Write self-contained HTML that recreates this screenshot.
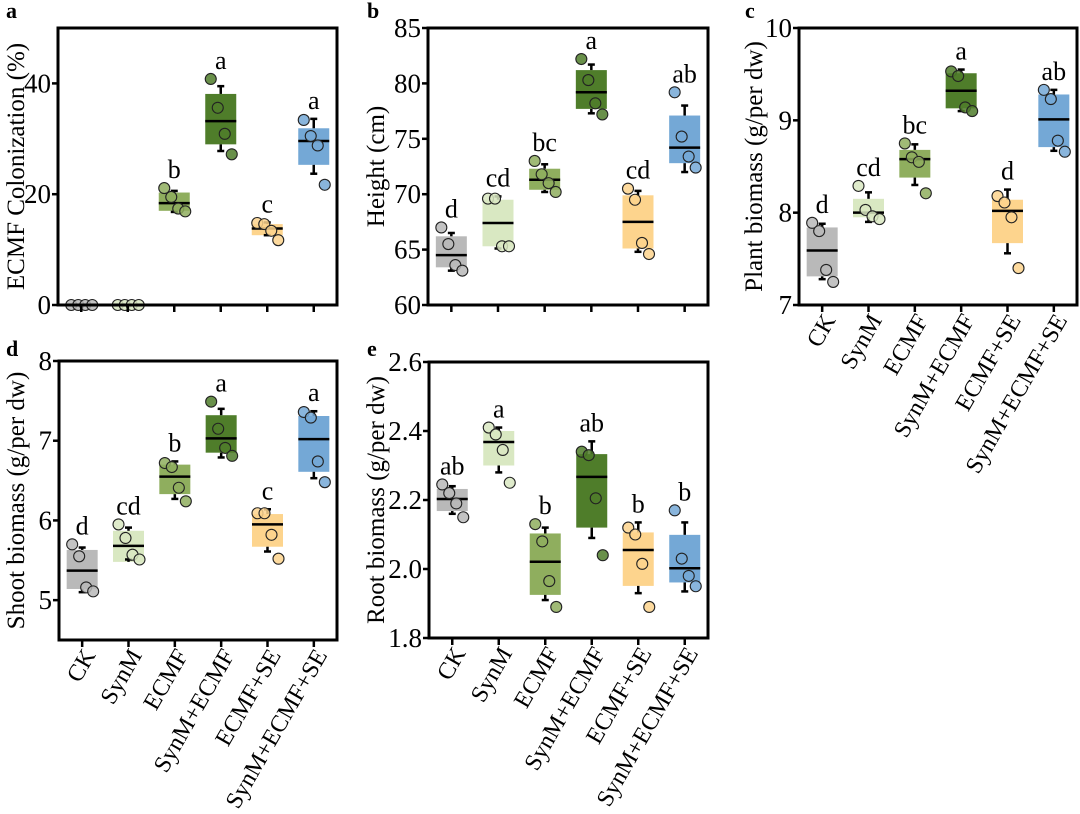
<!DOCTYPE html>
<html><head><meta charset="utf-8"><style>
html,body{margin:0;padding:0;background:#fff;}
svg{display:block;font-family:"Liberation Serif",serif;}
</style></head><body>
<svg id="fig" width="1080" height="814" viewBox="0 0 1080 814" xmlns="http://www.w3.org/2000/svg"></svg>
<script>
const categories = ["CK","SynM","ECMF","SynM+ECMF","ECMF+SE","SynM+ECMF+SE"];
const colors = ["#b9b9b9","#d9e8c2","#8fae5e","#4f7d2a","#fdd48d","#74a8d6"];

// Panel a
const aQ1 = [0,0,17.0,29.0,12.6,25.3];
const aMed = [0,0,18.4,33.2,13.8,29.6];
const aQ3 = [0,0,20.3,38.1,14.6,31.9];
const aLo = [0,0,16.8,27.8,12.6,23.7];
const aHi = [0,0,20.6,39.5,14.9,33.6];
const aPts = [[0,0,0,0],[0,0,0,0],[21.1,19.5,17.4,16.9],[40.8,35.6,30.9,27.2],[14.8,14.6,13.4,11.7],[33.4,30.5,28.8,21.7]];
const aLetters = ["","","b","a","c","a"];
const aTicks = [0,20,40];

// Panel b
const bQ1 = [63.4,65.3,70.4,77.7,65.1,72.8];
const bMed = [64.5,67.4,71.3,79.2,67.5,74.2];
const bQ3 = [66.2,69.5,72.3,81.2,69.9,77.1];
const bLo = [63.1,65.1,70.2,77.3,64.8,72.0];
const bHi = [66.5,69.8,72.7,81.7,70.3,78.0];
const bPts = [[67.0,65.5,63.6,63.1],[69.6,69.6,65.3,65.3],[73.0,71.8,71.0,70.2],[82.2,80.3,78.2,77.2],[70.5,69.5,65.6,64.6],[79.2,75.2,73.4,72.4]];
const bLetters = ["d","cd","bc","a","cd","ab"];
const bTicks = [60,65,70,75,80,85];

// Panel c
const cQ1 = [7.31,7.95,8.38,9.13,7.67,8.71];
const cMed = [7.59,8.00,8.58,9.32,8.02,9.01];
const cQ3 = [7.84,8.15,8.68,9.51,8.14,9.28];
const cLo = [7.28,7.90,8.30,9.10,7.56,8.67];
const cHi = [7.88,8.22,8.74,9.55,8.25,9.33];
const cPts = [[7.89,7.80,7.38,7.25],[8.29,8.03,7.96,7.93],[8.75,8.60,8.55,8.21],[9.53,9.48,9.14,9.10],[8.18,8.11,7.95,7.40],[9.33,9.23,8.78,8.66]];
const cLetters = ["d","cd","bc","a","d","ab"];
const cTicks = [7,8,9,10];

// Panel d
const dQ1 = [5.14,5.48,6.33,6.85,5.67,6.61];
const dMed = [5.37,5.68,6.55,7.03,5.95,7.02];
const dQ3 = [5.63,5.87,6.70,7.32,6.08,7.31];
const dLo = [5.10,5.51,6.27,6.79,5.61,6.53];
const dHi = [5.66,5.91,6.74,7.40,6.14,7.37];
const dPts = [[5.70,5.55,5.16,5.11],[5.95,5.78,5.57,5.51],[6.72,6.67,6.41,6.24],[7.49,7.15,6.91,6.81],[6.09,6.09,5.82,5.52],[7.36,7.29,6.74,6.48]];
const dLetters = ["d","cd","b","a","c","a"];
const dTicks = [5,6,7,8];

// Panel e
const eQ1 = [2.168,2.30,1.925,2.12,1.951,1.961];
const eMed = [2.203,2.368,2.021,2.267,2.055,2.002];
const eQ3 = [2.232,2.40,2.103,2.333,2.106,2.099];
const eLo = [2.16,2.28,1.91,2.09,1.93,1.935];
const eHi = [2.24,2.41,2.12,2.37,2.135,2.135];
const ePts = [[2.245,2.22,2.19,2.15],[2.41,2.39,2.345,2.25],[2.13,2.08,1.965,1.89],[2.34,2.33,2.205,2.04],[2.12,2.10,2.015,1.89],[2.17,2.03,1.98,1.95]];
const eLetters = ["ab","a","b","ab","b","b"];
const eTicks = ["1.8","2.0","2.2","2.4","2.6"];

const NS = "http://www.w3.org/2000/svg";
const svg = document.getElementById("fig");
function mk(tag, attrs, parent){
  const e = document.createElementNS(NS, tag);
  for (const k in attrs) e.setAttribute(k, attrs[k]);
  (parent||svg).appendChild(e);
  return e;
}
const jitter = [-10,-3,4,11];

function panel(o){
  const g = mk("g", {});
  
  
  const y = v => o.bottom - (v - o.min) / (o.max - o.min) * (o.bottom - o.top);
  const step = (o.right - o.left) / 6;
  const x = i => o.left + step * (i + 0.5);
  const pl = mk("text", {x:o.lx, y:o.ly, "font-size":22, "font-weight":"bold"}, g);
  pl.textContent = o.id;
  
  
  const yt = mk("text", {x:0, y:0, "font-size":25, "text-anchor":"middle", transform:`translate(${o.tx},${(o.top+o.bottom)/2}) rotate(-90)`}, g);
  yt.textContent = o.title;
  
  
  o.ticks.forEach(t => {
    const v = parseFloat(t);
    const yy = y(v);
    const tl = mk("line", {x1:o.left-6, x2:o.left, y1:yy, y2:yy, stroke:"#000", "stroke-width":2.5}, g);
    
    
    const tx = mk("text", {x:o.left-7, y:yy+9, "font-size":27, "text-anchor":"end"}, g);
    tx.textContent = t;
    
    
  });
  for (let i = 0; i < 6; i++){
    const cx = x(i);
    const bg = mk("g", {}, g);
    
    
    if (o.q3[i] > o.q1[i]) {
      const r = mk("rect", {x:cx-15.5, y:y(o.q3[i]), width:31, height:y(o.q1[i])-y(o.q3[i]), fill:colors[i]}, bg);
      
      
      const w1 = mk("line", {x1:cx, x2:cx, y1:y(o.q3[i]), y2:y(o.hi[i]), stroke:"#000", "stroke-width":2.5}, bg);
      
      
      const c1 = mk("line", {x1:cx-3.5, x2:cx+3.5, y1:y(o.hi[i]), y2:y(o.hi[i]), stroke:"#000", "stroke-width":2.5}, bg);
      
      
      const w2 = mk("line", {x1:cx, x2:cx, y1:y(o.q1[i]), y2:y(o.lo[i]), stroke:"#000", "stroke-width":2.5}, bg);
      
      
      const c2 = mk("line", {x1:cx-3.5, x2:cx+3.5, y1:y(o.lo[i]), y2:y(o.lo[i]), stroke:"#000", "stroke-width":2.5}, bg);
      
      
      const m = mk("line", {x1:cx-15.5, x2:cx+15.5, y1:y(o.med[i]), y2:y(o.med[i]), stroke:"#000", "stroke-width":2.5}, bg);
      
      
    }
    o.pts[i].forEach((v, k) => {
      const c = mk("circle", {cx:cx+jitter[k], cy:y(v), r:5.5, fill:colors[i], stroke:"#222", "stroke-width":1.1, "fill-opacity":0.85}, bg);
      
      
    });
    if (o.letters[i]) {
      const top = Math.min(y(o.hi[i]), ...o.pts[i].map(y));
      const lt = mk("text", {x:cx, y:top-10, "font-size":26, "text-anchor":"middle"}, bg);
      lt.textContent = o.letters[i];
      
      
    }
    const xt = mk("line", {x1:cx, x2:cx, y1:o.bottom, y2:o.bottom+7, stroke:"#000", "stroke-width":2.5}, g);
    
    
    if (o.xlabels) {
      const xl = mk("text", {x:0, y:0, "font-size":24, "text-anchor":"end", transform:`translate(${cx+14},${o.bottom+15}) rotate(-60)`}, g);
      xl.textContent = categories[i];
      
      
    }
  }
  const fr = mk("rect", {x:o.left, y:o.top, width:o.right-o.left, height:o.bottom-o.top, fill:"none", stroke:"#000", "stroke-width":3}, g);
  
  
}

panel({id:"a", left:58, right:337, top:28, bottom:305, min:0, max:50, ticks:aTicks, title:"ECMF Colonization (%)", tx:24, lx:6, ly:18,
  q1:aQ1, med:aMed, q3:aQ3, lo:aLo, hi:aHi, pts:aPts, letters:aLetters, xlabels:false});
panel({id:"b", left:428, right:708, top:28, bottom:305, min:60, max:85, ticks:bTicks, title:"Height (cm)", tx:384, lx:367, ly:18,
  q1:bQ1, med:bMed, q3:bQ3, lo:bLo, hi:bHi, pts:bPts, letters:bLetters, xlabels:false});
panel({id:"c", left:799, right:1077, top:28, bottom:305, min:7, max:10, ticks:cTicks, title:"Plant biomass (g/per dw)", tx:762, lx:745, ly:18,
  q1:cQ1, med:cMed, q3:cQ3, lo:cLo, hi:cHi, pts:cPts, letters:cLetters, xlabels:true});
panel({id:"d", left:59, right:337, top:361, bottom:640, min:4.5, max:8, ticks:dTicks, title:"Shoot biomass (g/per dw)", tx:24, lx:6, ly:356,
  q1:dQ1, med:dMed, q3:dQ3, lo:dLo, hi:dHi, pts:dPts, letters:dLetters, xlabels:true});
panel({id:"e", left:429, right:708, top:362, bottom:638, min:1.8, max:2.6, ticks:eTicks, title:"Root biomass (g/per dw)", tx:384, lx:367, ly:356,
  q1:eQ1, med:eMed, q3:eQ3, lo:eLo, hi:eHi, pts:ePts, letters:eLetters, xlabels:true});
</script>
</body></html>
